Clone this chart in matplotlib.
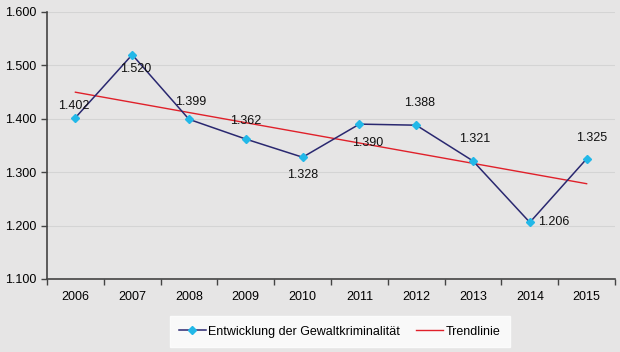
import numpy as np
import matplotlib.pyplot as plt

plt.rcParams['font.family'] = ['Liberation Sans', 'DejaVu Sans']

# Daten
jahre = ["2006", "2007", "2008", "2009", "2010", "2011", "2012", "2013", "2014", "2015"]
werte = [1402, 1520, 1399, 1362, 1328, 1390, 1388, 1321, 1206, 1325]
labels = ["1.402", "1.520", "1.399", "1.362", "1.328", "1.390", "1.388", "1.321", "1.206", "1.325"]
# Offsets der Beschriftungen in Pixel (dx, dy)
offs = [(-2, 12), (3, -14), (2, 17), (0, 18), (0, -18), (8, -19), (3, 22), (2, 22), (24, 0), (5, 21)]

x = np.arange(len(jahre))
y = np.array(werte) / 1000
bg = "#e6e5e5"

fig = plt.figure(figsize=(6.2, 3.52), dpi=100, facecolor=bg)
ax = fig.add_axes([0.0758, 0.2074, 0.9162, 0.7586], facecolor=bg)

# Trendlinie
p = np.polyfit(x, y, 1)
ax.plot(x, y, color="#2a2870", lw=1.1, marker="D", ms=4.5, mfc="#22b8e8", mec="#22b8e8",
        label="Entwicklung der Gewaltkriminalität", zorder=3)
ax.plot(x, np.polyval(p, x), color="#e0202a", lw=1.0, label="Trendlinie", zorder=2)

for xi, yi, t, (dx, dy) in zip(x, y, labels, offs):
    ax.annotate(t, (xi, yi), xytext=(dx * 0.72, dy * 0.72), textcoords="offset points",
                ha="center", va="center", fontsize=9, color="#111111")

ax.set_xlim(-0.5, 9.5)
ax.set_ylim(1.1, 1.6)
ax.set_yticks(np.arange(1.1, 1.61, 0.1))
ax.set_yticklabels(["1.100", "1.200", "1.300", "1.400", "1.500", "1.600"])
ax.set_xticks(x)
ax.set_xticklabels(jahre)
ax.set_xticks(np.arange(-0.5, 9.6, 1), minor=True)
ax.tick_params(axis="x", which="major", length=0, pad=9, labelsize=9)
ax.tick_params(axis="x", which="minor", length=4, width=1, color="#444444")
ax.tick_params(axis="y", length=4, width=1, color="#444444", labelsize=9)
ax.grid(axis="y", color="#d4d4d4", lw=0.8)
for s in ["top", "right"]:
    ax.spines[s].set_visible(False)
for s in ["left", "bottom"]:
    ax.spines[s].set_color("#444444")
    ax.spines[s].set_linewidth(1.2)

leg = fig.legend(loc="center", bbox_to_anchor=(0.548, 0.058), ncol=2, frameon=True,
                 fontsize=9, fancybox=False, edgecolor="white", handlelength=2.15,
                 handletextpad=0.2, columnspacing=1.3, borderpad=0.75, markerscale=0.8)
leg.get_frame().set_facecolor("white")

fig.savefig("out.png", dpi=100, facecolor=bg)
